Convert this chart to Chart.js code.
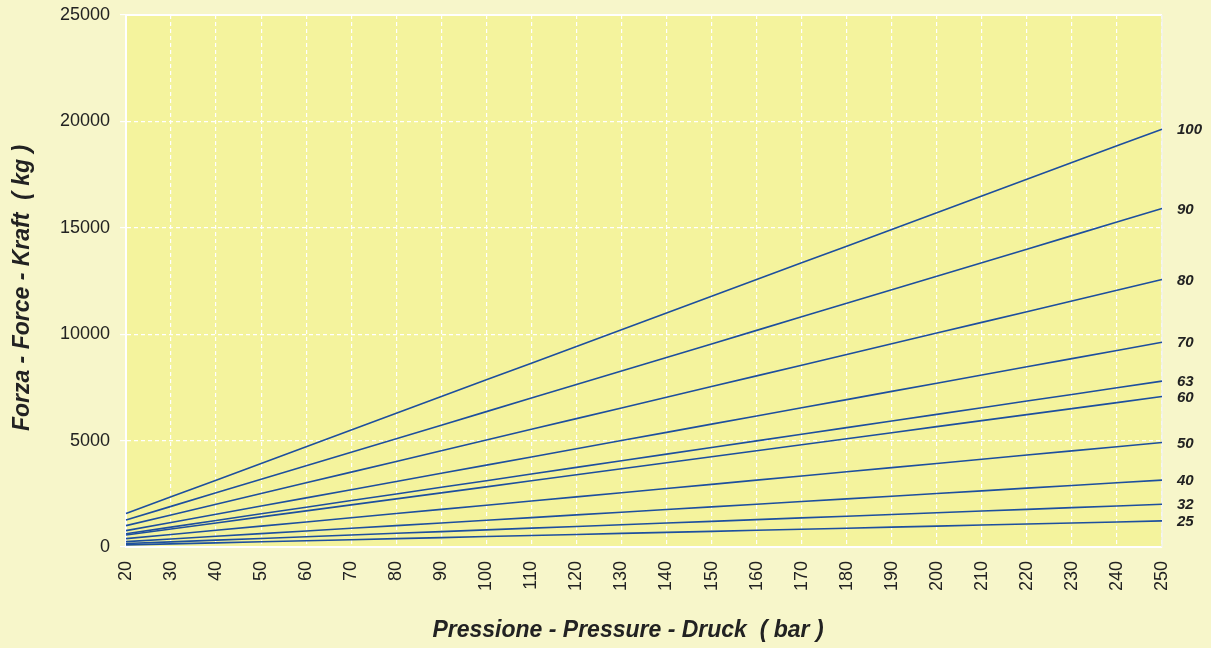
<!DOCTYPE html>
<html>
<head>
<meta charset="utf-8">
<script src="https://cdn.jsdelivr.net/npm/chart.js@4/dist/chart.umd.min.js"></script>
<style>
  html, body { margin: 0; padding: 0; background: #f7f6ca; }
  canvas { display: block; }
</style>
</head>
<body>
<canvas id="c" width="1211" height="648"></canvas>
<script>
// Pressure (bar) categories
const pressures = ['20','30','40','50','60','70','80','90','100','110','120','130','140','150','160','170','180','190','200','210','220','230','240','250'];

// Bore diameters (mm) — labels at the right end of each line
const bores = ['25','32','40','50','60','63','70','80','90','100'];

// Force (kg) per bore
const force25  = [98,147,196,245,295,344,393,442,491,540,589,638,687,736,785,834,884,933,982,1031,1080,1129,1178,1227];
const force32  = [161,241,322,402,483,563,643,724,804,885,965,1046,1126,1206,1287,1367,1448,1528,1608,1689,1769,1850,1930,2011];
const force40  = [251,377,503,628,754,880,1005,1131,1257,1382,1508,1634,1759,1885,2011,2136,2262,2388,2513,2639,2765,2890,3016,3142];
const force50  = [393,589,785,982,1178,1374,1571,1767,1963,2160,2356,2553,2749,2945,3142,3338,3534,3731,3927,4123,4320,4516,4712,4909];
const force60  = [565,848,1131,1414,1696,1979,2262,2545,2827,3110,3393,3676,3958,4241,4524,4807,5089,5372,5655,5938,6220,6503,6786,7069];
const force63  = [623,935,1247,1559,1870,2182,2494,2805,3117,3429,3741,4052,4364,4676,4988,5299,5611,5923,6234,6546,6858,7170,7481,7793];
const force70  = [770,1155,1539,1924,2309,2694,3079,3464,3848,4233,4618,5003,5388,5773,6158,6542,6927,7312,7697,8082,8467,8852,9236,9621];
const force80  = [1005,1508,2011,2513,3016,3519,4021,4524,5027,5529,6032,6535,7037,7540,8042,8545,9048,9550,10053,10556,11058,11561,12064,12566];
const force90  = [1272,1909,2545,3181,3817,4453,5089,5726,6362,6998,7634,8270,8906,9543,10179,10815,11451,12087,12723,13360,13996,14632,15268,15904];
const force100 = [1571,2356,3142,3927,4712,5498,6283,7069,7854,8639,9425,10210,10996,11781,12566,13352,14137,14923,15708,16493,17279,18064,18850,19635];

const seriesValues = [force25, force32, force40, force50, force60, force63, force70, force80, force90, force100];

const xTitle = 'Pressione - Pressure - Druck  ( bar )';
const yTitle = 'Forza - Force - Kraft  ( kg )';

const OUTER_BG = '#f7f6ca';
const PLOT_BG = '#f4f39d';
const LINE_COLOR = '#1d4f9e';
const TEXT_COLOR = '#222222';

const bgPlugin = {
  id: 'bg',
  beforeDraw(chart) {
    const {ctx, chartArea: a} = chart;
    ctx.save();
    ctx.fillStyle = OUTER_BG;
    ctx.fillRect(0, 0, chart.width, chart.height);
    ctx.fillStyle = PLOT_BG;
    ctx.fillRect(a.left, a.top, a.right - a.left, a.bottom - a.top);
    ctx.restore();
  },
  beforeDatasetsDraw(chart) {
    const {ctx, chartArea: a} = chart;
    ctx.save();
    ctx.strokeStyle = '#ffffff';
    ctx.lineWidth = 2;
    ctx.beginPath();
    ctx.moveTo(a.left, a.top);
    ctx.lineTo(a.right, a.top);
    ctx.stroke();
    ctx.strokeStyle = '#f2f2ee';
    ctx.lineWidth = 1.5;
    ctx.beginPath();
    ctx.moveTo(a.right, a.top);
    ctx.lineTo(a.right, a.bottom);
    ctx.stroke();
    ctx.restore();
  },
  afterDraw(chart) {
    const {ctx, chartArea: a} = chart;
    ctx.save();
    ctx.fillStyle = TEXT_COLOR;
    // end labels
    ctx.font = 'italic bold 15px "Liberation Sans", Arial, sans-serif';
    ctx.textAlign = 'left';
    ctx.textBaseline = 'middle';
    chart.data.datasets.forEach((ds, i) => {
      const meta = chart.getDatasetMeta(i);
      const pt = meta.data[meta.data.length - 1];
      ctx.fillText(ds.label, a.right + 15, pt.y + 1);
    });
    // axis titles
    ctx.font = 'italic bold 23px "Liberation Sans", Arial, sans-serif';
    ctx.textAlign = 'center';
    ctx.fillText(xTitle, 628, 631);
    ctx.translate(23, 288);
    ctx.rotate(-Math.PI / 2);
    ctx.fillText(yTitle, 0, 0);
    ctx.restore();
  }
};

new Chart(document.getElementById('c'), {
  type: 'line',
  data: {
    labels: pressures,
    datasets: bores.map((b, i) => ({
      label: b,
      data: seriesValues[i],
      borderColor: LINE_COLOR,
      backgroundColor: LINE_COLOR,
      borderWidth: 1.6,
      pointRadius: 0,
      tension: 0,
      fill: false
    }))
  },
  options: {
    responsive: false,
    animation: false,
    layout: { padding: { top: 15, right: 49, left: 0, bottom: 0 } },
    plugins: { legend: { display: false }, tooltip: { enabled: false } },
    scales: {
      x: {
        offset: false,
        afterFit(scale) { scale.height = 101; scale.paddingLeft = 0; scale.paddingRight = 0; },
        grid: {
          color: '#ffffff',
          lineWidth: 1.2,
          drawTicks: false
        },
        border: { display: true, color: '#ffffff', width: 2, dash: [4, 3] },
        ticks: {
          autoSkip: false,
          maxRotation: 90,
          minRotation: 90,
          padding: 14,
          color: TEXT_COLOR,
          font: { family: '"Liberation Sans", Arial, sans-serif', size: 18 }
        }
      },
      y: {
        min: 0,
        max: 25000,
        afterFit(scale) { scale.width = 126; scale.paddingTop = 0; scale.paddingBottom = 0; },
        grid: {
          color: '#ffffff',
          lineWidth: 1.2,
          drawTicks: true,
          tickLength: 6,
          tickColor: '#ffffff',
          tickBorderDash: []
        },
        border: { display: true, color: '#ffffff', width: 2, dash: [4, 3] },
        ticks: {
          stepSize: 5000,
          padding: 10,
          color: TEXT_COLOR,
          font: { family: '"Liberation Sans", Arial, sans-serif', size: 18 },
          callback: (v) => String(v)
        }
      }
    }
  },
  plugins: [bgPlugin]
});
</script>
</body>
</html>
